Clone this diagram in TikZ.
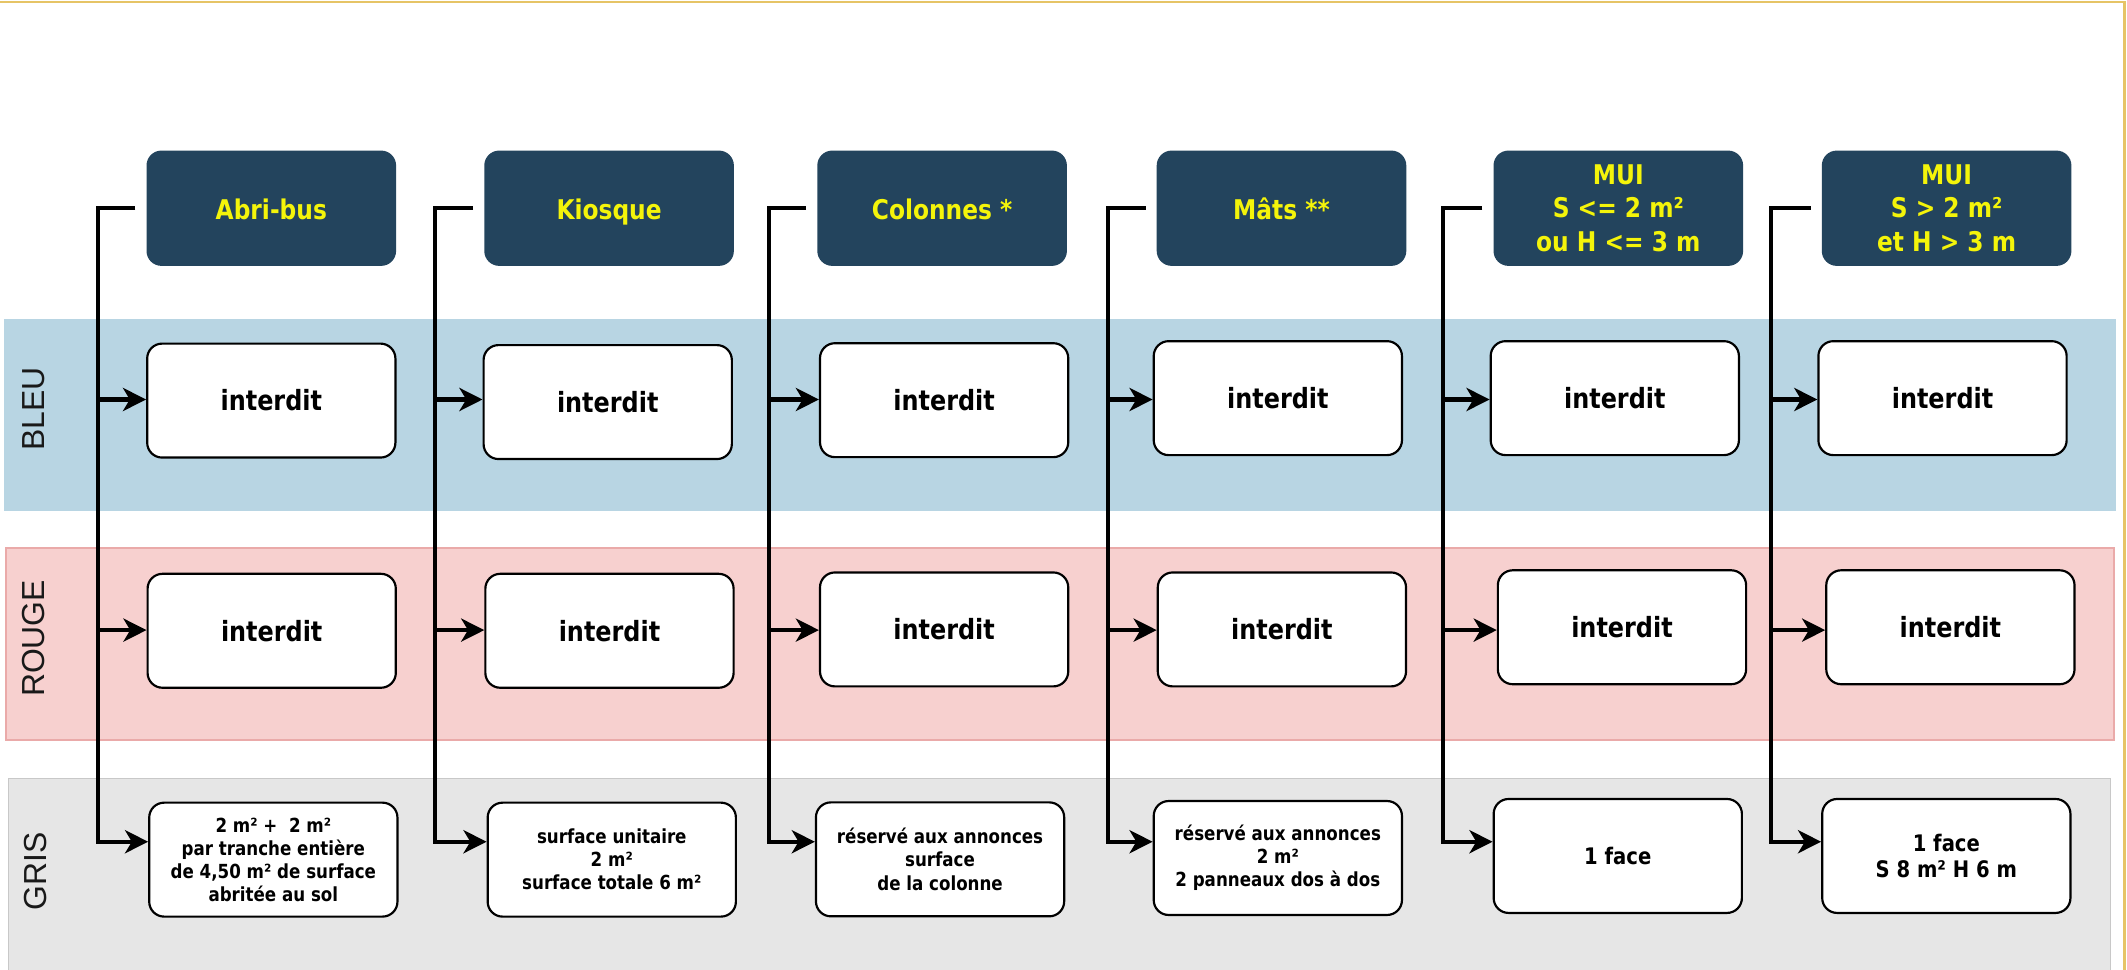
\documentclass[tikz,border=0pt]{standalone}
\usepackage{fontspec}
\setmainfont{DejaVu Sans}[FakeStretch=0.86]
\newfontfamily\labfont{Liberation Sans}
\usetikzlibrary{arrows.meta}
\definecolor{hdrfill}{HTML}{23445D}
\definecolor{hdrtext}{HTML}{F4F40A}
\definecolor{goldline}{HTML}{E6C466}
\definecolor{bluefill}{HTML}{B8D5E3}
\definecolor{pinkfill}{HTML}{F7D0CF}
\definecolor{pinkline}{HTML}{EAAAA9}
\definecolor{grayfill}{HTML}{E6E6E6}
\definecolor{grayline}{HTML}{C8C8C8}
\tikzset{
  hdr/.style={rectangle, rounded corners=11pt, fill=hdrfill, text=hdrtext,
    minimum width=184pt, minimum height=85pt, inner sep=0pt, align=center,
    font=\fontsize{20}{24.6}\selectfont\bfseries},
  oneline/.style={text height=17pt, text depth=0pt},
  cell/.style={rectangle, rounded corners=11pt, draw=black, line width=1.6pt, fill=white,
    minimum width=183pt, minimum height=84pt, inner sep=0pt, align=center,
    font=\fontsize{20.5}{25}\selectfont\bfseries},
  smalltext/.style={font=\fontsize{14.3}{17}\selectfont\bfseries},
  midtext/.style={font=\fontsize{16.8}{19.7}\selectfont\bfseries},
  bandlabel/.style={rotate=90, inner sep=0pt, text=black!90,
    font=\labfont\fontsize{23.5}{28}\selectfont},
  wire/.style={draw=black, line width=3pt, line join=miter,
    -{Stealth[length=17pt,width=17pt,inset=5pt]}},
  branch/.style={draw=black, line width=3pt,
    -{Stealth[length=17pt,width=17pt,inset=5pt]}}
}
\begin{document}
\begin{tikzpicture}[x=1pt,y=-1pt]
\useasboundingbox (0,0) rectangle (1568,715);
\clip (0,0) rectangle (1568,715);
\fill[white] (0,0) rectangle (1568,715);
% outer frame
\draw[goldline, line width=2pt] (-10,1.5) rectangle (1566,730);
% bands
\fill[bluefill] (3,235) rectangle (1560,376.5);
\draw[pinkline, fill=pinkfill, line width=1pt] (4.5,404) rectangle (1558.5,545.5);
\draw[grayline, fill=grayfill, line width=1pt] (6.5,574) rectangle (1556,740);
\node[bandlabel] (lb) at (25,301.5) {BLEU};
\node[bandlabel] (lr) at (25,470.7) {ROUGE};
\node[bandlabel] (lg) at (26,642.5) {GRIS};

% row y coordinates of the connectors
\coordinate (yB) at (0,294.5);
\coordinate (yR) at (0,464.5);
\coordinate (yG) at (0,620.5);

% headers
\node[hdr, oneline] (h1) at (200,153.5) {Abri-bus};
\node[hdr, oneline] (h2) at (449,153.5) {Kiosque};
\node[hdr, oneline] (h3) at (694.5,153.5) {Colonnes *};
\node[hdr, oneline] (h4) at (944.7,153.5) {Mâts **};
\node[hdr] (h5) at (1193,153.5) {MUI\\S <= 2 m²\\ou H <= 3 m};
\node[hdr] (h6) at (1435,153.5) {MUI\\S > 2 m²\\et H > 3 m};

% BLEU row
\node[cell] (b1) at (200,295.3) {interdit};
\node[cell] (b2) at (448,296.4) {interdit};
\node[cell] (b3) at (696,295) {interdit};
\node[cell] (b4) at (942,293.5) {interdit};
\node[cell] (b5) at (1190.4,293.5) {interdit};
\node[cell] (b6) at (1432,293.5) {interdit};
% ROUGE row
\node[cell] (r1) at (200.3,465) {interdit};
\node[cell] (r2) at (449.3,465) {interdit};
\node[cell] (r3) at (696,464) {interdit};
\node[cell] (r4) at (945,464) {interdit};
\node[cell] (r5) at (1195.7,462.4) {interdit};
\node[cell] (r6) at (1437.8,462.4) {interdit};
% GRIS row
\node[cell, smalltext] (g1) at (201.5,633.7) {2 m² + \ 2 m²\\par tranche entière\\de 4,50 m² de surface\\abritée au sol};
\node[cell, smalltext] (g2) at (451,633.7) {surface unitaire\\2 m²\\surface totale 6 m²};
\node[cell, smalltext] (g3) at (693,633.5) {réservé aux annonces\\surface\\de la colonne};
\node[cell, smalltext] (g4) at (942,632.5) {réservé aux annonces\\2 m²\\2 panneaux dos à dos};
\node[cell, midtext] (g5) at (1192.6,631) {1 face};
\node[cell, midtext] (g6) at (1434.8,631) {1 face\\S 8 m² H 6 m};

% connectors
\coordinate (s1) at ([xshift=-8pt]h1.west);
\coordinate (v1) at (72,153.5);
\coordinate (s2) at ([xshift=-8pt]h2.west);
\coordinate (v2) at (321,153.5);
\coordinate (s3) at ([xshift=-8pt]h3.west);
\coordinate (v3) at (567,153.5);
\coordinate (s4) at ([xshift=-8pt]h4.west);
\coordinate (v4) at (816.7,153.5);
\coordinate (s5) at ([xshift=-8pt]h5.west);
\coordinate (v5) at (1064,153.5);
\coordinate (s6) at ([xshift=-8pt]h6.west);
\coordinate (v6) at (1305.5,153.5);

\foreach \i in {1,...,6}{
  \draw[wire] (s\i) -- (v\i) |- (g\i.west |- yG);
  \draw[branch] (v\i |- yB) -- (b\i.west |- yB);
  \draw[branch] (v\i |- yR) -- (r\i.west |- yR);
}
\end{tikzpicture}
\end{document}
